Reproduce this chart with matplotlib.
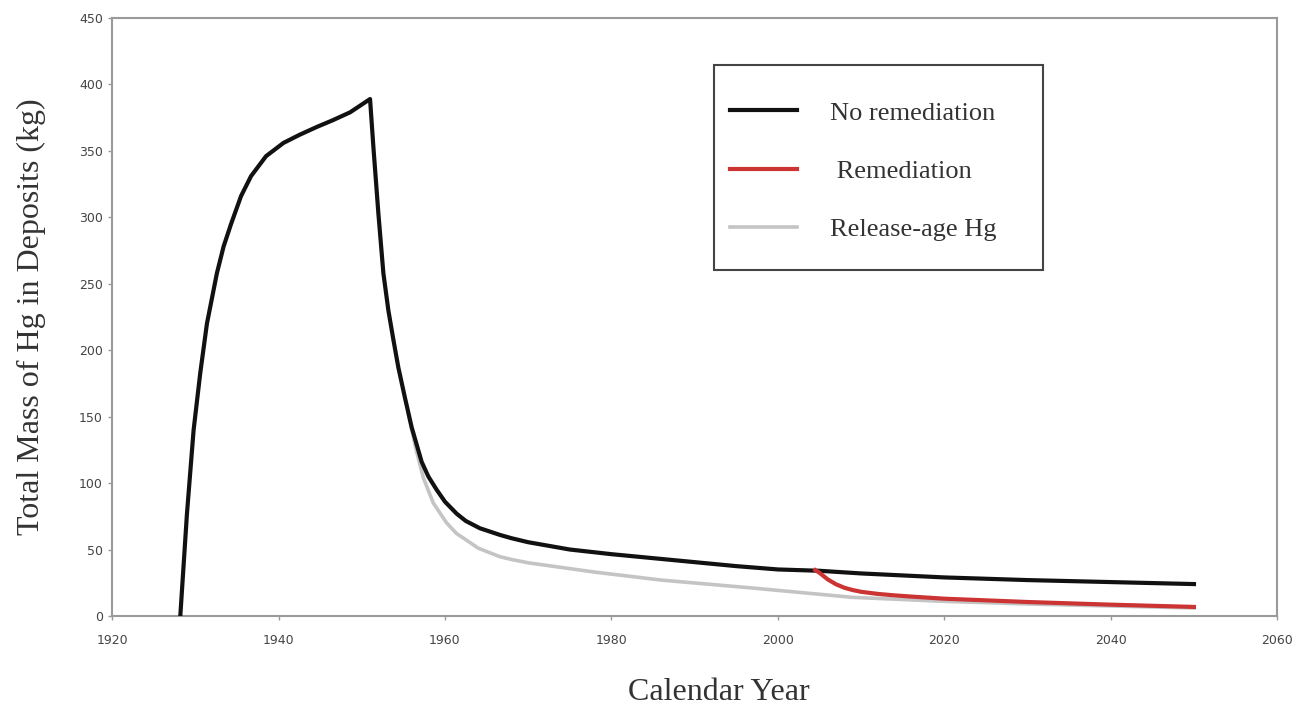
import matplotlib
matplotlib.use('Agg')
import matplotlib.pyplot as plt
from matplotlib.patches import Rectangle

# no remediation (black)
years_black = [1928.2, 1929.0, 1929.8, 1930.6, 1931.4, 1932.6, 1933.4, 1934.3, 1935.5, 1936.7,
               1938.5, 1940.6, 1942.5, 1944.6, 1946.5, 1948.6, 1951.0, 1951.4, 1952.0, 1952.6,
               1953.2, 1953.8, 1954.4, 1955.2, 1956.0, 1957.2, 1958.0, 1959.0, 1960.0, 1961.4,
               1962.5, 1964.2, 1966.6, 1968.0, 1970.0, 1975.0, 1980.0, 1985.0, 1990.0, 1995.0,
               2000.0, 2005.0, 2010.0, 2015.0, 2020.0, 2030.0, 2040.0, 2050.0]
mass_black = [0, 77, 140, 183, 220, 258, 278, 295, 316, 331,
              346, 356, 362, 368, 373, 379, 389, 353, 303, 258,
              230, 208, 187, 164, 142, 116, 105, 95, 86, 77,
              71.5, 66, 61, 58.5, 55.5, 50, 46.5, 43.5, 40.5, 37.5,
              35, 34, 32, 30.5, 29, 27, 25.5, 24]

# remediation (red)
years_red = [2004.5, 2005.0, 2006.0, 2007.0, 2008.0, 2009.0, 2010.0, 2012.0, 2014.0, 2016.0,
             2020.0, 2030.0, 2040.0, 2050.0]
mass_red = [34.5, 32.5, 27.5, 23.8, 21.2, 19.5, 18.2, 16.6, 15.5, 14.6,
            13, 10.5, 8.5, 6.8]

# release-age Hg (gray)
years_gray = [1955.6, 1956.5, 1957.4, 1958.6, 1960.2, 1961.4, 1962.6, 1964.0, 1966.6, 1968.0,
              1970.0, 1978.0, 1986.0, 1997.0, 2009.0, 2020.0, 2030.0, 2040.0, 2050.0]
mass_gray = [152, 126, 104, 85, 70, 62, 57, 51, 44.6, 42.5,
             40, 33, 27, 21, 14, 11, 9, 7.5, 6]

x_ticks = [1920, 1940, 1960, 1980, 2000, 2020, 2040, 2060]
y_ticks = [0, 50, 100, 150, 200, 250, 300, 350, 400, 450]

fig = plt.figure(figsize=(12.94, 7.08), dpi=100, facecolor='w')
ax = fig.add_axes([0.0866, 0.130, 0.9004, 0.8446])

ax.plot(years_gray, mass_gray, color='#c4c4c4', linewidth=2.6, label='Release-age Hg', zorder=2)
ax.plot(years_black, mass_black, color='#111111', linewidth=3.0, label='No remediation', zorder=3)
ax.plot(years_red, mass_red, color='#cc3333', linewidth=3.0, label=' Remediation', zorder=4)

ax.set_xlim(1920, 2060)
ax.set_ylim(0, 450)
ax.set_xticks(x_ticks)
ax.set_yticks(y_ticks)
ax.tick_params(labelsize=9, labelcolor='#444444', color='#999999', length=3, width=1)
ax.tick_params(axis='x', pad=10)
for sp in ax.spines.values():
    sp.set_color('#9a9a9a')
    sp.set_linewidth(1.5)

ax.set_xlabel('Calendar Year', family='Liberation Serif', fontsize=23, color='#333333')
ax.xaxis.label.set_va('center')
ax.xaxis.set_label_coords(0.521, -0.128)
ax.set_ylabel('Total Mass of Hg in Deposits (kg)', family='Liberation Serif', fontsize=23,
              color='#333333')
ax.yaxis.label.set_va('center')
ax.yaxis.set_label_coords(-0.0695, 0.5)

handles, labels = ax.get_legend_handles_labels()
order = [1, 2, 0]
leg = ax.legend([handles[i] for i in order], [labels[i] for i in order],
                loc='upper left', bbox_to_anchor=(0.5305, 0.861),
                prop={'family': 'Liberation Serif', 'size': 19},
                handlelength=2.54, handletextpad=1.25, labelspacing=1.32,
                borderpad=0, borderaxespad=0, frameon=False)
for t in leg.get_texts():
    t.set_color('#333333')
# legend box
ax.add_patch(Rectangle((0.5167, 0.5786), 0.2824, 0.3428, transform=ax.transAxes,
                       fill=False, edgecolor='#444444', linewidth=1.5, zorder=5))

fig.savefig('out.png', dpi=100)
